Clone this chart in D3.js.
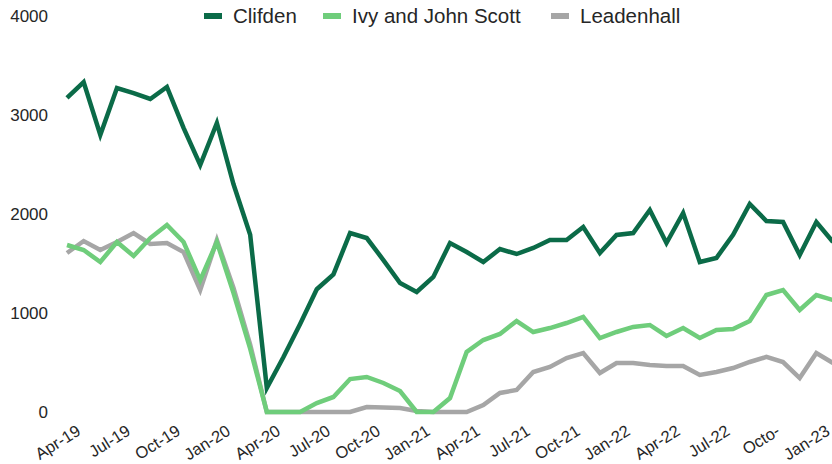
<!DOCTYPE html>
<meta charset="utf-8">
<title>Clifden, Ivy and John Scott, Leadenhall</title>
<style>
  body { margin: 0; background: #fff; }
  text { font-family: "Liberation Sans", Arial, sans-serif; fill: #262626; }
  .line { fill: none; stroke-width: 4.5; stroke-linejoin: miter; }
</style>
<body>
<script src="https://cdn.jsdelivr.net/npm/d3@7/dist/d3.min.js"></script>
<script>
  // months Apr-19 .. Feb-23
  var months = ["Apr-19","May-19","Jun-19","Jul-19","Aug-19","Sep-19","Oct-19","Nov-19","Dec-19",
    "Jan-20","Feb-20","Mar-20","Apr-20","May-20","Jun-20","Jul-20","Aug-20","Sep-20","Oct-20","Nov-20","Dec-20",
    "Jan-21","Feb-21","Mar-21","Apr-21","May-21","Jun-21","Jul-21","Aug-21","Sep-21","Oct-21","Nov-21","Dec-21",
    "Jan-22","Feb-22","Mar-22","Apr-22","May-22","Jun-22","Jul-22","Aug-22","Sep-22","Oct-22","Nov-22","Dec-22",
    "Jan-23","Feb-23"];

  // axis shows every third month (the Oct-22 label is cut short in the original)
  var tickMonths = ["Apr-19","Jul-19","Oct-19","Jan-20","Apr-20","Jul-20","Oct-20","Jan-21",
    "Apr-21","Jul-21","Oct-21","Jan-22","Apr-22","Jul-22","Oct-22","Jan-23"];
  var tickLabels = ["Apr-19","Jul-19","Oct-19","Jan-20","Apr-20","Jul-20","Oct-20","Jan-21",
    "Apr-21","Jul-21","Oct-21","Jan-22","Apr-22","Jul-22","Octo-","Jan-23"];

  var yTicks = [0, 1000, 2000, 3000, 4000];

  var seriesNames = ["Clifden", "Ivy and John Scott", "Leadenhall"];
  var seriesColors = ["#0b6b48", "#6fcd7b", "#a6a6a6"];

  var clifden = [3172, 3333, 2798, 3273, 3222, 3162, 3283, 2870, 2495, 2919, 2300, 1790,
    242, 556, 890, 1240, 1390, 1808, 1757, 1535, 1303, 1212, 1364, 1707, 1616, 1515, 1646,
    1596, 1657, 1737, 1737, 1868, 1606, 1788, 1808, 2040, 1707, 2010, 1515, 1556, 1790,
    2101, 1929, 1919, 1586, 1919, 1717];

  var ivy = [1687, 1636, 1515, 1717, 1576, 1757, 1889, 1717, 1333, 1717, 1202, 640,
    0, 0, 0, 90, 152, 333, 354, 293, 212, 0, 0, 141, 606, 727, 788, 919, 808, 848, 899,
    960, 747, 808, 859, 879, 768, 848, 747, 828, 838, 919, 1182, 1232, 1030, 1182, 1131];

  var leadenhall = [1606, 1727, 1636, 1717, 1808, 1697, 1707, 1616, 1232, 1737, 1252, 680,
    0, 0, 0, 0, 0, 0, 50, 45, 40, 10, 0, 0, 0, 71, 192, 222, 404, 455, 545, 596, 394, 495,
    495, 475, 465, 465, 374, 404, 444, 505, 556, 505, 343, 596, 495];

  var seriesValues = [clifden, ivy, leadenhall];

  var width = 832, height = 464;

  var svg = d3.select("body").append("svg")
      .attr("width", width)
      .attr("height", height);

  var x = d3.scalePoint()
      .domain(months)
      .range([67, 833]);

  var y = d3.scaleLinear()
      .domain([0, 4000])
      .range([412, 16]);

  // y axis labels only, no line
  var yAxis = svg.append("g")
      .attr("transform", "translate(48,0)")
      .call(d3.axisLeft(y).tickValues(yTicks).tickSize(0).tickPadding(0).tickFormat(d3.format("d")));
  yAxis.select(".domain").remove();
  yAxis.selectAll("text")
      .style("font-size", "17px")
      .attr("fill", "#262626");

  // x axis: rotated labels every 3 months
  var xAxis = svg.append("g")
      .attr("transform", "translate(0,424)")
      .call(d3.axisBottom(x).tickValues(tickMonths).tickSize(0).tickPadding(0)
        .tickFormat(function(d, i) { return tickLabels[i]; }));
  xAxis.select(".domain").remove();
  xAxis.selectAll("text")
      .style("font-size", "16.5px")
      .attr("fill", "#262626")
      .attr("text-anchor", "end")
      .attr("x", 0)
      .attr("y", 0)
      .attr("dy", "0.71em")
      .attr("transform", "translate(8,0) rotate(-32)");

  var line = d3.line()
      .x(function(d, i) { return x(months[i]); })
      .y(function(d) { return y(d); });

  // draw the lines, grey first so the greens sit on top
  [2, 1, 0].forEach(function(k) {
    svg.append("path")
        .datum(seriesValues[k])
        .attr("class", "line")
        .attr("stroke", seriesColors[k])
        .attr("d", line);
  });

  // legend
  var legendX = [204, 323, 551];
  var legend = svg.append("g").selectAll("g")
      .data(seriesNames)
      .enter().append("g")
      .attr("transform", function(d, i) { return "translate(" + legendX[i] + ",16)"; });

  legend.append("rect")
      .attr("x", 0)
      .attr("y", -3)
      .attr("width", 18)
      .attr("height", 6)
      .attr("fill", function(d, i) { return seriesColors[i]; });

  legend.append("text")
      .attr("x", 29)
      .attr("dy", "0.36em")
      .style("font-size", "20.5px")
      .text(function(d) { return d; });
</script>
</body>
